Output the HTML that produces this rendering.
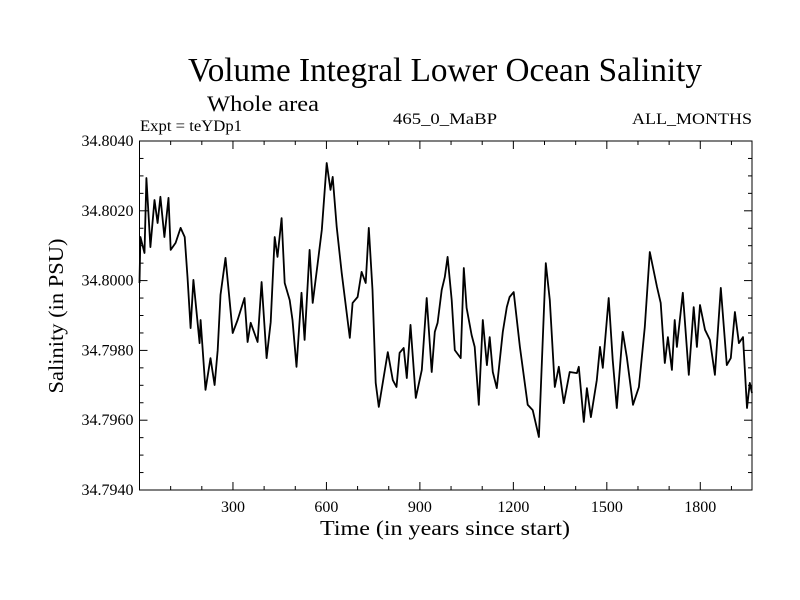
<!DOCTYPE html>
<html><head><meta charset="utf-8"><style>
html,body{margin:0;padding:0;background:#fff;}
svg{display:block;font-family:"Liberation Serif","Times New Roman",serif;}
svg text{font-family:"Liberation Serif","Times New Roman",serif;}
</style></head><body>
<svg id="chart" width="800" height="600" viewBox="0 0 800 600">
<rect width="800" height="600" fill="#fff"/>
<text x="445" y="81" font-size="34" text-anchor="middle" textLength="514" lengthAdjust="spacingAndGlyphs">Volume Integral Lower Ocean Salinity</text>
<text x="207" y="111" font-size="22" textLength="112" lengthAdjust="spacingAndGlyphs">Whole area</text>
<text x="140" y="131" font-size="16" textLength="102" lengthAdjust="spacingAndGlyphs">Expt = teYDp1</text>
<text x="445" y="124" font-size="16" text-anchor="middle" textLength="104" lengthAdjust="spacingAndGlyphs">465_0_MaBP</text>
<text x="752" y="124" font-size="16" text-anchor="end" textLength="120" lengthAdjust="spacingAndGlyphs">ALL_MONTHS</text>
<text x="445" y="535" font-size="21" text-anchor="middle" textLength="250" lengthAdjust="spacingAndGlyphs">Time (in years since start)</text>
<text transform="translate(63,316) rotate(-90)" font-size="21" text-anchor="middle" textLength="155" lengthAdjust="spacingAndGlyphs">Salinity (in PSU)</text>
<g id="axes"></g>
<g id="plot"></g>
</svg>
<script>
const years = [0,3,16,22,35,48,58,67,80,93,100,116,132,145,154,164,173,193,196,212,228,241,251,260,276,286,299,315,337,347,357,379,392,408,421,434,443,456,466,482,491,504,520,530,546,556,572,585,601,613,620,633,649,675,684,700,713,726,736,748,758,768,797,813,825,835,848,858,870,887,906,922,938,948,957,970,980,989,1002,1012,1031,1041,1050,1066,1076,1089,1102,1115,1124,1134,1147,1166,1179,1188,1201,1221,1246,1262,1282,1304,1317,1333,1346,1362,1381,1404,1410,1426,1436,1449,1468,1478,1487,1506,1519,1532,1551,1564,1584,1603,1622,1638,1648,1661,1673,1686,1696,1709,1718,1725,1744,1763,1779,1789,1799,1815,1831,1847,1866,1885,1898,1911,1924,1937,1950,1959,1966];
const salinity = [34.79993,34.80125,34.80079,34.80294,34.80096,34.80231,34.80165,34.8024,34.80125,34.80237,34.80088,34.80108,34.80151,34.80125,34.8001,34.79864,34.80002,34.79821,34.79887,34.79687,34.79778,34.79701,34.79801,34.79959,34.80065,34.79973,34.7985,34.79887,34.7995,34.79824,34.79879,34.79824,34.79996,34.79778,34.79881,34.80125,34.80068,34.80179,34.79993,34.79944,34.79887,34.79753,34.79965,34.7983,34.80088,34.79936,34.8005,34.80145,34.80337,34.8026,34.80297,34.80154,34.80022,34.79836,34.79936,34.79953,34.80025,34.79993,34.80151,34.79973,34.79707,34.79638,34.79795,34.79715,34.79695,34.79793,34.79807,34.79721,34.79873,34.79664,34.79744,34.7995,34.79738,34.79853,34.79879,34.79973,34.8001,34.80068,34.79944,34.79801,34.79778,34.80036,34.79922,34.79844,34.7981,34.79644,34.79887,34.79758,34.79838,34.79738,34.79692,34.79853,34.79924,34.79953,34.79967,34.7981,34.79644,34.79629,34.79552,34.8005,34.79944,34.79695,34.79753,34.79649,34.79738,34.79735,34.79753,34.79595,34.79692,34.79609,34.79715,34.7981,34.7975,34.7995,34.79773,34.79635,34.79853,34.79781,34.79644,34.79695,34.79867,34.80082,34.80039,34.79982,34.79936,34.79764,34.79838,34.79744,34.79887,34.7981,34.79965,34.7973,34.79924,34.7981,34.7993,34.79859,34.7983,34.7973,34.79979,34.79758,34.79778,34.7991,34.79821,34.79838,34.79635,34.79707,34.79678];
const xTickValues = [300,600,900,1200,1500,1800];
const xTickLabels = ["300","600","900","1200","1500","1800"];
const yTickValues = [34.794,34.796,34.798,34.800,34.802,34.804];
const yTickLabels = ["34.7940","34.7960","34.7980","34.8000","34.8020","34.8040"];

const NS = "http://www.w3.org/2000/svg";
const L = 139.5, R = 752, T = 141, B = 490;
const X0 = 0, X1 = 1966, Y0 = 34.794, Y1 = 34.804;
const sx = v => L + (v - X0) / (X1 - X0) * (R - L);
const sy = v => B - (v - Y0) / (Y1 - Y0) * (B - T);
const axes = document.getElementById('axes');
const plot = document.getElementById('plot');
function mk(tag, attrs, parent) {
  const e = document.createElementNS(NS, tag);
  for (const k in attrs) e.setAttribute(k, attrs[k]);
  parent.appendChild(e);
  return e;
}
const frame = mk('rect', {x:L, y:T, width:R-L, height:B-T, fill:'none', stroke:'#000', 'stroke-width':1}, axes);


for (let v = 100; v < X1; v += 100) {
  const major = v % 300 === 0;
  const len = major ? 8 : 4;
  const x = sx(v);
  const tb = mk('line', {x1:x, x2:x, y1:B, y2:B-len, stroke:'#000', 'stroke-width':1}, axes);
  
  
  const tt = mk('line', {x1:x, x2:x, y1:T, y2:T+len, stroke:'#000', 'stroke-width':1}, axes);
  
  
}
xTickValues.forEach((v, i) => {
  const t = mk('text', {x:sx(v), y:B+22, 'font-size':16, 'text-anchor':'middle'}, axes);
  t.textContent = xTickLabels[i];
  
  
});
for (let k = 1; k < 20; k++) {
  const v = Y0 + k * 0.0005;
  const major = k % 4 === 0;
  const len = major ? 8 : 4;
  const y = sy(v);
  const tl = mk('line', {x1:L, x2:L+len, y1:y, y2:y, stroke:'#000', 'stroke-width':1}, axes);
  
  
  const tr = mk('line', {x1:R, x2:R-len, y1:y, y2:y, stroke:'#000', 'stroke-width':1}, axes);
  
  
}
yTickValues.forEach((v, i) => {
  const t = mk('text', {x:L-6, y:sy(v)+5, 'font-size':16, 'text-anchor':'end'}, axes);
  t.textContent = yTickLabels[i];
  
  
});
const pts = years.map((yr, i) => sx(yr).toFixed(1) + ',' + sy(salinity[i]).toFixed(1)).join(' ');
const line = mk('polyline', {points:pts, fill:'none', stroke:'#000', 'stroke-width':1.8, 'stroke-linejoin':'round'}, plot);


</script>
</body></html>
